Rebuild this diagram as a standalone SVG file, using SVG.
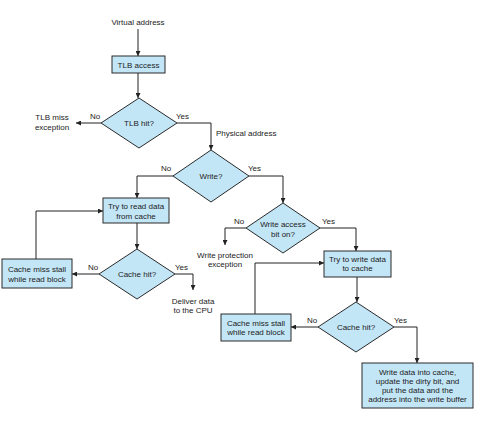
<svg xmlns="http://www.w3.org/2000/svg" width="478" height="427" viewBox="0 0 478 427">
<defs>
<marker id="ah" markerWidth="5" markerHeight="5" refX="5" refY="2.5" orient="auto" markerUnits="userSpaceOnUse">
<path d="M0,0 L5,2.5 L0,5 z" fill="#222"/>
</marker>
<style>
.b{fill:#c3e6f7;stroke:#2a2a2a;stroke-width:1}
.t{font-family:"Liberation Sans",Arial,sans-serif;font-size:8px;fill:#222;text-anchor:middle}
.l{font-family:"Liberation Sans",Arial,sans-serif;font-size:8px;fill:#222}
.c{fill:none;stroke:#222;stroke-width:1;marker-end:url(#ah)}
</style>
</defs>
<rect width="478" height="427" fill="#fff"/>
<g id="connectors">
<path class="c" d="M138,29 V56"/>
<path class="c" d="M138,73 V98"/>
<path class="c" d="M101,123 H76"/>
<path class="c" d="M177,123 H211 V150"/>
<path class="c" d="M173,176 H137 V198"/>
<path class="c" d="M249,176 H283 V203"/>
<path class="c" d="M246,228 H225 V245"/>
<path class="c" d="M320,228 H356 V251"/>
<path class="c" d="M137,223 V249"/>
<path class="c" d="M99,274 H72"/>
<path class="c" d="M175,274 H193 V290"/>
<path class="c" d="M36,259 V211 H103"/>
<path class="c" d="M357,277 V302"/>
<path class="c" d="M318,327 H291"/>
<path class="c" d="M394,327 H417 V363"/>
<path class="c" d="M255,314 V263 H324"/>
</g>
<g id="labels">
<text class="t" x="138" y="25">Virtual address</text>
<text class="t" x="52" y="120">TLB miss</text>
<text class="t" x="52" y="130">exception</text>
<text class="l" x="90" y="119">No</text>
<text class="l" x="176" y="119">Yes</text>
<text class="l" x="216" y="136">Physical address</text>
<text class="l" x="161" y="171">No</text>
<text class="l" x="248" y="171">Yes</text>
<text class="l" x="234" y="224">No</text>
<text class="l" x="322" y="224">Yes</text>
<text class="t" x="225" y="258">Write protection</text>
<text class="t" x="225" y="267">exception</text>
<text class="l" x="88" y="270">No</text>
<text class="l" x="175" y="270">Yes</text>
<text class="t" x="193" y="304">Deliver data</text>
<text class="t" x="193" y="313">to the CPU</text>
<text class="l" x="307" y="323">No</text>
<text class="l" x="394" y="323">Yes</text>
</g>
<g id="tlb-access">
<rect class="b" x="112" y="56" width="53" height="17"/>
<text class="t" x="138.5" y="67.5">TLB access</text>
</g>
<g id="tlb-hit">
<polygon class="b" points="139,98 177,123 139,148 101,123"/>
<text class="t" x="139" y="126">TLB hit?</text>
</g>
<g id="write">
<polygon class="b" points="211,150 249,176 211,202 173,176"/>
<text class="t" x="211" y="179">Write?</text>
</g>
<g id="write-access">
<polygon class="b" points="283,203 320,228 283,253 246,228"/>
<text class="t" x="283" y="227">Write access</text>
<text class="t" x="283" y="237">bit on?</text>
</g>
<g id="read-cache">
<rect class="b" x="103" y="198" width="66" height="25"/>
<text class="t" x="136" y="209">Try to read data</text>
<text class="t" x="136" y="219">from cache</text>
</g>
<g id="cache-hit-1">
<polygon class="b" points="137,249 175,274 137,299 99,274"/>
<text class="t" x="137" y="277">Cache hit?</text>
</g>
<g id="miss-stall-1">
<rect class="b" x="2" y="259" width="70" height="29"/>
<text class="t" x="37" y="272">Cache miss stall</text>
<text class="t" x="37" y="282">while read block</text>
</g>
<g id="write-cache">
<rect class="b" x="324" y="251" width="67" height="26"/>
<text class="t" x="357.5" y="262">Try to write data</text>
<text class="t" x="357.5" y="271">to cache</text>
</g>
<g id="cache-hit-2">
<polygon class="b" points="356,302 394,327 356,352 318,327"/>
<text class="t" x="356" y="330">Cache hit?</text>
</g>
<g id="miss-stall-2">
<rect class="b" x="221" y="314" width="70" height="27"/>
<text class="t" x="256" y="326">Cache miss stall</text>
<text class="t" x="256" y="335">while read block</text>
</g>
<g id="write-buffer">
<rect class="b" x="362" y="363" width="111" height="45"/>
<text class="t" x="417.5" y="375">Write data into cache,</text>
<text class="t" x="417.5" y="384">update the dirty bit, and</text>
<text class="t" x="417.5" y="393">put the data and the</text>
<text class="t" x="417.5" y="402">address into the write buffer</text>
</g>
</svg>
